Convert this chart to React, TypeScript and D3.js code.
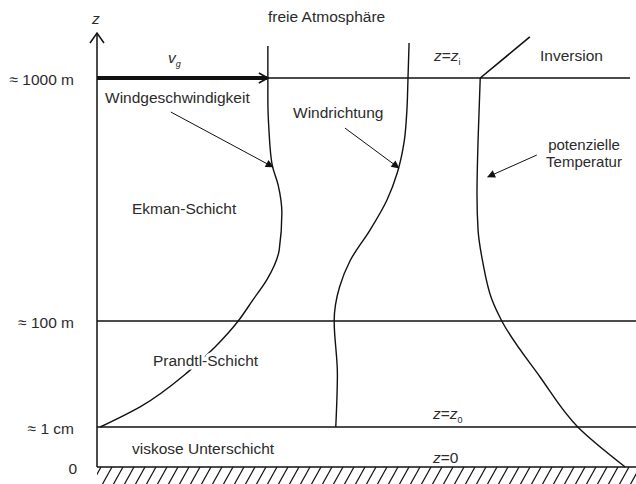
import * as d3 from "d3";

// schematic units: x 0..100 across the plot, z as level index
// 0 = ground, 1 = z0 (~1 cm), 2 = 100 m, 3 = zi (~1000 m)
const levels = [
  { label: "0", z: 0 },
  { label: "≈ 1 cm", z: 1 },
  { label: "≈ 100 m", z: 2 },
  { label: "≈ 1000 m", z: 3 },
];

const windSpeed: [number, number][] = [
  [0.6, 1], [8.0, 1.19], [16.9, 1.52], [21.9, 1.755], [26.2, 2],
  [28.9, 2.086], [31.5, 2.169], [33.8, 2.292], [34.3, 2.444], [33.6, 2.56],
  [32.5, 2.642], [31.9, 2.786], [31.7, 2.909], [31.7, 3], [31.7, 3.132],
];

const windDir: [number, number][] = [
  [44.3, 1], [44.6, 1.5], [44.0, 2], [45.0, 2.14], [47.0, 2.25],
  [50.65, 2.374], [53.8, 2.498], [55.7, 2.609], [57.0, 2.74],
  [57.5, 2.87], [57.7, 3], [57.9, 3.144],
];

const theta: [number, number][] = [
  [71.1, 3], [70.7, 2.745], [70.5, 2.519], [70.7, 2.374], [71.6, 2.239],
  [73.3, 2.086], [75.1, 2], [82.2, 1.472], [89.2, 1], [98.0, 0],
];

const inversion: [number, number][] = [[71.1, 3], [80.3, 3.169]];

const pointers = [
  { from: [13.7, 2.86], to: [32.65, 2.634] },
  { from: [46.0, 2.794], to: [56.0, 2.63] },
  { from: [81.6, 2.683], to: [72.5, 2.593] },
];

const W = 636;
const H = 484;
const font = "'Liberation Sans', Arial, sans-serif";
const ink = "#111";
const txt = "#2b2b2b";

const x = d3.scaleLinear().domain([0, 100]).range([97, 636]);
const y = d3.scaleLinear().domain([0, 1, 2, 3]).range([467, 427, 321, 78]);

const line = d3
  .line<[number, number]>()
  .x((d) => x(d[0]))
  .y((d) => y(d[1]))
  .curve(d3.curveMonotoneY);

const straight = d3
  .line<[number, number]>()
  .x((d) => x(d[0]))
  .y((d) => y(d[1]));

export default function App() {
  const x0 = x(0);
  const hatch = d3.range(x0 - 6, W + 10, 11);
  const vgEnd = x(windSpeed[windSpeed.length - 2][0]);

  return (
    <svg
      width={W}
      height={H}
      style={{ position: "absolute", left: 0, top: 0, background: "#fff" }}
      fontFamily={font}
      fontSize={15.5}
    >
      <defs>
        <marker id="tri" viewBox="0 0 10 10" refX="9" refY="5" markerWidth="11" markerHeight="8" markerUnits="userSpaceOnUse" orient="auto">
          <path d="M0,0 L10,5 L0,10 Z" fill={ink} />
        </marker>
      </defs>

      {/* ground hatching */}
      <clipPath id="gclip">
        <rect x={x0} y={y(0)} width={W - x0} height={H - y(0)} />
      </clipPath>
      <g clipPath="url(#gclip)" stroke={ink} strokeWidth={1.2}>
        {hatch.map((h) => (
          <line key={h} x1={h} y1={H + 1} x2={h + 10} y2={y(0)} />
        ))}
      </g>

      {/* level lines */}
      <line x1={x0} x2={W} y1={y(0)} y2={y(0)} stroke={ink} strokeWidth={1.6} />
      <line x1={x0} x2={W} y1={y(1)} y2={y(1)} stroke={ink} strokeWidth={1.3} />
      <line x1={x0} x2={W} y1={y(2)} y2={y(2)} stroke={ink} strokeWidth={1.3} />
      <line x1={vgEnd} x2={x(98.9)} y1={y(3)} y2={y(3)} stroke={ink} strokeWidth={1.3} />

      {/* z axis */}
      <line x1={x0} x2={x0} y1={y(0)} y2={33} stroke={ink} strokeWidth={1.5} />
      <path d={`M${x0 - 7},43 L${x0},33 L${x0 + 7},43`} fill="none" stroke={ink} strokeWidth={1.5} />
      <text x={x0 - 5} y={24} fontStyle="italic" fill={txt}>z</text>

      {/* geostrophic wind arrow */}
      <line x1={x0} x2={vgEnd - 1} y1={y(3)} y2={y(3)} stroke={ink} strokeWidth={4} />
      <path d={`M${vgEnd - 9},${y(3) - 5} L${vgEnd},${y(3)} L${vgEnd - 9},${y(3) + 5}`} fill="none" stroke={ink} strokeWidth={1.6} />
      <text x={168} y={63} fontStyle="italic" fill={txt}>
        v<tspan fontSize={9} dy={4}>g</tspan>
      </text>

      {/* profiles */}
      <path d={line(windSpeed) ?? ""} fill="none" stroke={ink} strokeWidth={1.4} />
      <path d={line(windDir) ?? ""} fill="none" stroke={ink} strokeWidth={1.4} />
      <path d={line(theta) ?? ""} fill="none" stroke={ink} strokeWidth={1.4} />
      <path d={straight(inversion) ?? ""} fill="none" stroke={ink} strokeWidth={1.6} />

      {pointers.map((p, i) => (
        <line
          key={i}
          x1={x(p.from[0])}
          y1={y(p.from[1])}
          x2={x(p.to[0])}
          y2={y(p.to[1])}
          stroke={ink}
          strokeWidth={1}
          markerEnd="url(#tri)"
        />
      ))}

      {/* level tick labels */}
      {levels.map((l) => (
        <text key={l.label} x={l.z === 0 ? 77 : 74} y={y(l.z) + 7} textAnchor="end" fill={txt}>
          {l.label}
        </text>
      ))}

      {/* annotations */}
      <g fill={txt}>
        <text x={268} y={22}>freie Atmosphäre</text>
        <text x={105} y={103}>Windgeschwindigkeit</text>
        <text x={293} y={118}>Windrichtung</text>
        <text x={434} y={61}>
          <tspan fontStyle="italic">z</tspan>=<tspan fontStyle="italic">z</tspan>
          <tspan fontSize={9} dy={4}>i</tspan>
        </text>
        <text x={540} y={61}>Inversion</text>
        <text x={584} y={150} fontSize={15} textAnchor="middle">potenzielle</text>
        <text x={584} y={167} fontSize={15} textAnchor="middle">Temperatur</text>
        <text x={132} y={214}>Ekman-Schicht</text>
        <text x={153} y={366} stroke="#fff" strokeWidth={7} paintOrder="stroke" strokeLinejoin="round">
          Prandtl-Schicht
        </text>
        <text x={433} y={419}>
          <tspan fontStyle="italic">z</tspan>=<tspan fontStyle="italic">z</tspan>
          <tspan fontSize={9} dy={4}>0</tspan>
        </text>
        <text x={132} y={454}>viskose Unterschicht</text>
        <text x={433} y={463}>
          <tspan fontStyle="italic">z</tspan>=0
        </text>
      </g>
    </svg>
  );
}
